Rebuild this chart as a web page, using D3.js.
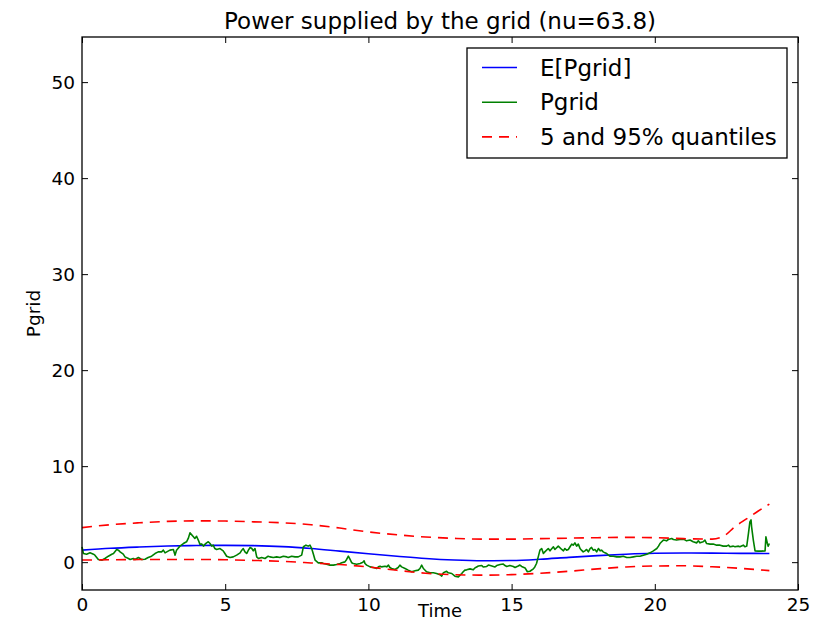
<!DOCTYPE html>
<html>
<head>
<meta charset="utf-8">
<script src="https://cdn.jsdelivr.net/npm/d3@7"></script>
<style>
  body { margin: 0; background: #fff; }
  text { font-family: "DejaVu Sans", sans-serif; }
</style>
</head>
<body>
<div class="gridchart"></div>
<script>
// expected value of the grid power [time, value]
const meanPgrid = [
  [0, 1.25], [1, 1.45], [2, 1.58], [3, 1.68], [4, 1.73], [5, 1.75], [6, 1.72],
  [7, 1.62], [8, 1.42], [9, 1.15], [10, 0.88], [11, 0.62], [12, 0.38], [13, 0.22],
  [14, 0.15], [15, 0.17], [16, 0.3], [17, 0.5], [18, 0.68], [19, 0.83], [20, 0.93],
  [21, 0.96], [22, 0.94], [23, 0.92], [24, 0.9]
];

// 95% quantile
const upperQuantile = [
  [0, 3.6], [1, 3.9], [2, 4.1], [3, 4.25], [4, 4.3], [5, 4.28], [6, 4.2], [7, 4.1],
  [8, 3.9], [9, 3.55], [10, 3.15], [11, 2.85], [12, 2.62], [13, 2.48], [14, 2.4],
  [15, 2.4], [16, 2.45], [17, 2.5], [18, 2.55], [19, 2.58], [20, 2.55], [21, 2.45],
  [22, 2.4], [22.4, 2.7], [22.8, 3.7], [23.2, 4.5], [23.6, 5.3], [24, 6.05]
];

// 5% quantile
const lowerQuantile = [
  [0, 0.22], [1, 0.25], [2, 0.27], [3, 0.28], [4, 0.28], [5, 0.25], [6, 0.18],
  [7, 0.08], [8, -0.08], [9, -0.25], [10, -0.5], [11, -0.85], [12, -1.15], [13, -1.3],
  [14, -1.35], [15, -1.3], [16, -1.15], [17, -0.95], [18, -0.7], [19, -0.5], [20, -0.4],
  [21, -0.38], [22, -0.48], [23, -0.65], [24, -0.88]
];

// one realisation of Pgrid
const pgrid = [
  [0, 1.6], [0.05, 0.9], [0.16, 0.83], [0.28, 0.97], [0.4, 0.83], [0.45, 0.73], [0.57, 0.28],
  [0.69, 0.2], [0.8, 0.38], [0.92, 0.62], [1.04, 0.83], [1.1, 0.9], [1.21, 1.32], [1.27, 1.25],
  [1.33, 1.07], [1.44, 0.83], [1.5, 0.55], [1.62, 0.38], [1.68, 0.28], [1.79, 0.38], [1.85, 0.28],
  [1.97, 0.48], [2.08, 0.28], [2.2, 0.31], [2.31, 0.48], [2.43, 0.62], [2.55, 0.9], [2.66, 1.07],
  [2.78, 1.07], [2.84, 1.25], [2.9, 0.97], [2.96, 1.07], [3.07, 1.25], [3.19, 1.32], [3.25, 0.73],
  [3.3, 1.25], [3.42, 1.67], [3.54, 1.94], [3.65, 2.12], [3.71, 2.47], [3.77, 3.05], [3.89, 2.64],
  [3.94, 2.47], [4.0, 2.7], [4.06, 2.3], [4.12, 1.85], [4.18, 1.9], [4.24, 1.67], [4.3, 1.88],
  [4.35, 2.01], [4.41, 2.12], [4.47, 1.94], [4.53, 1.67], [4.58, 1.77], [4.64, 1.42], [4.7, 1.32],
  [4.82, 1.42], [4.93, 1.18], [4.99, 0.9], [5.05, 0.62], [5.17, 0.48], [5.28, 0.55], [5.4, 0.73],
  [5.52, 0.97], [5.58, 1.25], [5.63, 1.42], [5.69, 1.07], [5.75, 0.9], [5.81, 1.25], [5.87, 1.53],
  [5.93, 1.42], [5.98, 1.18], [6.04, 1.42], [6.1, 0.55], [6.16, 0.38], [6.27, 0.48], [6.39, 0.38],
  [6.5, 0.62], [6.56, 0.55], [6.68, 0.48], [6.8, 0.55], [6.91, 0.48], [7.03, 0.62], [7.15, 0.55],
  [7.2, 0.48], [7.32, 0.62], [7.44, 0.55], [7.55, 0.55], [7.67, 0.73], [7.73, 1.6], [7.82, 1.77],
  [7.9, 1.67], [7.96, 1.77], [8.02, 1.42], [8.08, 0.83], [8.14, 0.2], [8.25, -0.07], [8.37, -0.07],
  [8.43, -0.14], [8.54, -0.21], [8.66, -0.31], [8.78, -0.31], [8.89, -0.24], [9.01, -0.14],
  [9.07, -0.07], [9.18, 0.03], [9.24, 0.28], [9.3, 0.62], [9.36, 0.28], [9.42, -0.07], [9.47, -0.14],
  [9.59, -0.21], [9.71, -0.14], [9.77, -0.07], [9.82, 0.03], [9.85, 0.14], [9.88, -0.14],
  [9.94, -0.31], [10.06, -0.49], [10.17, -0.56], [10.29, -0.66], [10.35, -0.49], [10.41, -0.42],
  [10.46, -0.49], [10.58, -0.42], [10.64, -0.49], [10.7, -0.31], [10.75, -0.56], [10.81, -0.66],
  [10.93, -0.76], [11.04, -0.56], [11.1, -0.31], [11.16, -0.49], [11.28, -0.66], [11.39, -0.83],
  [11.51, -1.0], [11.63, -0.9], [11.74, -0.83], [11.8, -0.66], [11.86, -0.31], [11.92, -0.66],
  [12.03, -1.0], [12.15, -1.11], [12.27, -1.11], [12.38, -1.18], [12.5, -1.3], [12.56, -1.45],
  [12.62, -1.1], [12.73, -0.95], [12.79, -1.11], [12.91, -1.18], [13.02, -1.46], [13.14, -1.53],
  [13.2, -1.35], [13.26, -1.18], [13.31, -1.0], [13.37, -0.83], [13.43, -0.8], [13.55, -0.7],
  [13.66, -0.8], [13.72, -0.6], [13.78, -0.5], [13.84, -0.4], [13.96, -0.35], [14.01, -0.5],
  [14.13, -0.45], [14.19, -0.3], [14.31, -0.4], [14.42, -0.5], [14.48, -0.35], [14.6, -0.25],
  [14.71, -0.2], [14.77, -0.35], [14.83, -0.45], [14.94, -0.35], [15.06, -0.45], [15.12, -0.55],
  [15.23, -0.4], [15.29, -0.3], [15.35, -0.45], [15.47, -0.6], [15.55, -1.0], [15.64, -0.95],
  [15.76, -0.7], [15.81, -0.5], [15.87, -0.14], [15.93, 0.55], [15.99, 1.25], [16.05, 1.42],
  [16.11, 0.9], [16.16, 1.07], [16.28, 1.42], [16.34, 1.18], [16.46, 1.6], [16.51, 1.32],
  [16.63, 1.67], [16.75, 1.32], [16.81, 1.18], [16.86, 1.42], [16.92, 1.25], [16.98, 1.32],
  [17.04, 1.6], [17.1, 1.88], [17.15, 1.77], [17.21, 2.01], [17.27, 1.67], [17.33, 1.88],
  [17.39, 1.42], [17.44, 1.25], [17.5, 1.07], [17.56, 1.18], [17.62, 1.32], [17.68, 1.07],
  [17.74, 1.42], [17.79, 1.53], [17.85, 1.25], [17.91, 1.32], [17.97, 1.07], [18.03, 1.42],
  [18.09, 1.18], [18.14, 1.25], [18.2, 1.07], [18.26, 0.97], [18.32, 0.9], [18.38, 0.73],
  [18.44, 0.62], [18.55, 0.62], [18.67, 0.55], [18.78, 0.55], [18.9, 0.62], [19.02, 0.48],
  [19.13, 0.48], [19.25, 0.55], [19.37, 0.62], [19.48, 0.62], [19.6, 0.73], [19.72, 0.83],
  [19.83, 0.97], [19.95, 1.18], [20.07, 1.42], [20.13, 1.67], [20.18, 1.94], [20.24, 2.12],
  [20.3, 2.3], [20.41, 2.22], [20.47, 2.36], [20.59, 2.47], [20.65, 2.36], [20.76, 2.3],
  [20.88, 2.36], [21.0, 2.4], [21.11, 2.22], [21.23, 2.3], [21.34, 2.12], [21.46, 2.01],
  [21.52, 2.22], [21.58, 2.01], [21.69, 2.12], [21.75, 2.3], [21.81, 1.94], [21.93, 1.88],
  [22.04, 1.88], [22.16, 1.77], [22.28, 1.77], [22.39, 1.67], [22.51, 1.67], [22.57, 1.77],
  [22.63, 1.6], [22.74, 1.67], [22.8, 1.6], [22.92, 1.67], [22.97, 1.6], [23.09, 1.77],
  [23.15, 1.6], [23.21, 1.67], [23.27, 2.99], [23.32, 4.2], [23.36, 4.4], [23.38, 3.68],
  [23.44, 2.3], [23.5, 1.18], [23.61, 1.15], [23.73, 1.15], [23.85, 1.18], [23.88, 2.64],
  [23.93, 1.94], [23.96, 1.67], [24.0, 1.94]
];

const xTicks = [0, 5, 10, 15, 20, 25];
const yTicks = [0, 10, 20, 30, 40, 50];

const legendItems = [
  { label: "E[Pgrid]", color: "#0000ff", dash: null },
  { label: "Pgrid", color: "#008000", dash: null },
  { label: "5 and 95% quantiles", color: "#ff0000", dash: "10,7" }
];

const width = 817;
const height = 622;
const margin = { top: 37, right: 19, bottom: 32, left: 82 };

const svg = d3
  .select(".gridchart")
  .append("svg")
  .attr("width", width)
  .attr("height", height);

const x = d3.scaleLinear().domain([0, 25]).range([margin.left, width - margin.right]);
const y = d3.scaleLinear().domain([-2.9, 54.7]).range([height - margin.bottom, margin.top]);

const line = d3
  .line()
  .x((d) => x(d[0]))
  .y((d) => y(d[1]));

const smooth = d3
  .line()
  .curve(d3.curveMonotoneX)
  .x((d) => x(d[0]))
  .y((d) => y(d[1]));

// data lines
svg.append("path").attr("d", smooth(meanPgrid))
  .attr("fill", "none").attr("stroke", "#0000ff").attr("stroke-width", 1.6);

svg.append("path").attr("d", line(pgrid))
  .attr("fill", "none").attr("stroke", "#008000").attr("stroke-width", 1.6)
  .attr("stroke-linejoin", "round");

[upperQuantile, lowerQuantile].forEach((q) => {
  svg.append("path").attr("d", smooth(q))
    .attr("fill", "none").attr("stroke", "#ff0000").attr("stroke-width", 1.6)
    .attr("stroke-dasharray", "10,7");
});

// axes, ticks pointing inward
const tickLen = 6;
const styleAxis = (g) => {
  g.select(".domain").remove();
  g.selectAll(".tick line").attr("stroke", "#000").attr("stroke-width", 1);
  g.selectAll(".tick text").attr("fill", "#000").style("font-size", "18.5px");
};

svg.append("g")
  .attr("transform", `translate(0, ${height - margin.bottom})`)
  .call(d3.axisBottom(x).tickValues(xTicks).tickSize(-tickLen).tickPadding(8))
  .call(styleAxis);

svg.append("g")
  .attr("transform", `translate(0, ${margin.top})`)
  .call(d3.axisTop(x).tickValues(xTicks).tickSize(-tickLen).tickFormat(""))
  .call(styleAxis);

svg.append("g")
  .attr("transform", `translate(${margin.left}, 0)`)
  .call(d3.axisLeft(y).tickValues(yTicks).tickSize(-tickLen).tickPadding(7))
  .call(styleAxis);

svg.append("g")
  .attr("transform", `translate(${width - margin.right}, 0)`)
  .call(d3.axisRight(y).tickValues(yTicks).tickSize(-tickLen).tickFormat(""))
  .call(styleAxis);

// frame
svg.append("rect")
  .attr("x", margin.left)
  .attr("y", margin.top)
  .attr("width", width - margin.left - margin.right)
  .attr("height", height - margin.top - margin.bottom)
  .attr("fill", "none")
  .attr("stroke", "#000")
  .attr("stroke-width", 1.3);

// title and labels
svg.append("text")
  .attr("x", (margin.left + width - margin.right) / 2)
  .attr("y", 29)
  .attr("text-anchor", "middle")
  .style("font-size", "23px")
  .text("Power supplied by the grid (nu=63.8)");

svg.append("text")
  .attr("x", (margin.left + width - margin.right) / 2)
  .attr("y", 617)
  .attr("text-anchor", "middle")
  .style("font-size", "18px")
  .text("Time");

svg.append("text")
  .attr("transform", `translate(40, ${(margin.top + height - margin.bottom) / 2}) rotate(-90)`)
  .attr("text-anchor", "middle")
  .style("font-size", "18.5px")
  .text("Pgrid");

// legend
const legend = svg.append("g").attr("transform", "translate(467, 48)");

legend.append("rect")
  .attr("width", 320)
  .attr("height", 110)
  .attr("fill", "#fff")
  .attr("stroke", "#000")
  .attr("stroke-width", 1.3);

const row = legend
  .selectAll("g.row")
  .data(legendItems)
  .enter()
  .append("g")
  .attr("class", "row")
  .attr("transform", (d, i) => `translate(0, ${19.5 + i * 34.7})`);

row.append("line")
  .attr("x1", 15).attr("x2", 50)
  .attr("stroke", (d) => d.color)
  .attr("stroke-width", 1.6)
  .attr("stroke-dasharray", (d) => d.dash);

row.append("text")
  .attr("x", 73)
  .attr("dy", "0.36em")
  .style("font-size", "23px")
  .text((d) => d.label);
</script>
</body>
</html>
